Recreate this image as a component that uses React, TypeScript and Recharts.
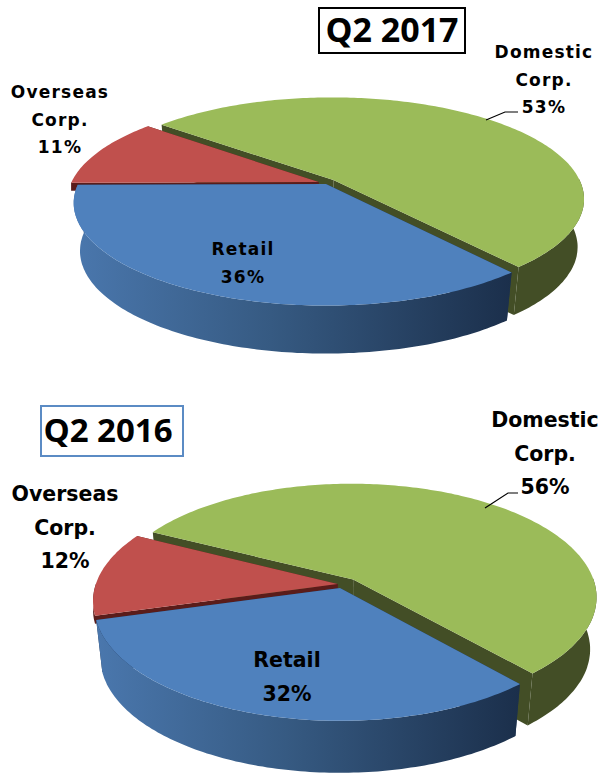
import { PieChart, Pie } from "recharts";

const sliceNames = ["Domestic Corp.", "Overseas Corp.", "Retail"];
const labelLines = [["Domestic", "Corp."], ["Overseas", "Corp."], ["Retail"]];
const values2017 = [53, 11, 36];
const values2016 = [56, 12, 32];

const topColors = ["#9BBB59", "#C0504D", "#4F81BD"];
const wallColors = ["#434E26", "#5A1C1A", "#1D3350"];

const LABEL_FONT = "'DejaVu Sans', sans-serif";
const TITLE_FONT = "'Open Sans', sans-serif";

interface View {
  id: string;
  cx: number;
  cy: number;
  r: number;
  squash: number;
  persp: number;
  depth: number;
  taper: number;
  start: number;
  explode: number[][];
  fontSize: number;
  spacing: number;
  lineHeight: number;
  labelPos: number[][];
  leader: number[][];
}

const view2017: View = {
  id: "w17",
  cx: 326,
  cy: 184,
  r: 248,
  squash: 0.4,
  persp: 0.184,
  depth: 48,
  taper: 0.975,
  start: -50,
  explode: [[0.03, 0.04], [-0.03, 0.02], [0, 0]],
  fontSize: 17,
  spacing: 1.2,
  lineHeight: 27.5,
  labelPos: [[544, 58], [60, 98], [243, 255]],
  leader: [[486, 120], [505, 112], [518, 112]],
};

const view2016: View = {
  id: "w16",
  cx: 340,
  cy: 203,
  r: 243,
  squash: 0.464,
  persp: 0.151,
  depth: 52,
  taper: 0.975,
  start: -49,
  explode: [[0.055, 0.075], [-0.01, 0.035], [0, 0]],
  fontSize: 20.5,
  spacing: 0,
  lineHeight: 33.5,
  labelPos: [[545, 42], [65, 116], [287, 282]],
  leader: [[485, 123], [508, 108], [518, 108]],
};

// overseas wall stays shallow, only its cut edge shows above retail
const SHALLOW_WALL = 8;

function project(v: View, deg: number, ex: number[], atCentre = false) {
  const a = (deg * Math.PI) / 180;
  const px = (atCentre ? 0 : Math.cos(a)) + ex[0];
  const py = (atCentre ? 0 : Math.sin(a)) + ex[1];
  const w = 1 + v.persp * py;
  return [v.cx + (v.r * px) / w, v.cy - (v.r * v.squash * py) / w];
}

function toPath(pts: number[][]) {
  return "M" + pts.map((p) => `${p[0].toFixed(1)},${p[1].toFixed(1)}`).join("L") + "Z";
}

function Slice3D({ view, props }: { view: View; props: any }) {
  const { startAngle, endAngle, index } = props;
  const ex = view.explode[index];
  const wallDepth = index === 1 ? SHALLOW_WALL : view.depth;
  const taper = index === 1 ? 1 : view.taper;
  const drop = (p: number[]) => [view.cx + (p[0] - view.cx) * taper, p[1] + wallDepth];

  const arc: number[][] = [];
  const frontArc: number[][] = [];
  for (let deg = startAngle; ; deg += 1) {
    const d = Math.min(deg, endAngle);
    const p = project(view, d, ex);
    arc.push(p);
    if (Math.sin((d * Math.PI) / 180) < 0.02) frontArc.push(p);
    if (deg >= endAngle) break;
  }
  const hub = project(view, 0, ex, true);
  const last = arc[arc.length - 1];
  const sideA = [hub, arc[0], drop(arc[0]), drop(hub)];
  const sideB = [hub, last, drop(last), drop(hub)];
  const frontFill = index === 2 ? `url(#${view.id})` : wallColors[index];
  return (
    <g>
      <path d={toPath(sideA)} fill={wallColors[index]} />
      <path d={toPath(sideB)} fill={wallColors[index]} />
      {frontArc.length > 1 && (
        <path d={toPath([...frontArc, ...frontArc.map(drop).reverse()])} fill={frontFill} />
      )}
      <path d={toPath([hub, ...arc])} fill={topColors[index]} />
    </g>
  );
}

function SliceLabel({ view, props }: { view: View; props: any }) {
  const { index, value } = props;
  const [x, y] = view.labelPos[index];
  const lines = [...labelLines[index], `${value}%`];
  return (
    <g>
      {index === 0 && (
        <polyline
          points={view.leader.map((p) => p.join(",")).join(" ")}
          fill="none"
          stroke="#000"
          strokeWidth={1.2}
        />
      )}
      <text
        x={x}
        y={y}
        textAnchor="middle"
        fontFamily={LABEL_FONT}
        fontWeight={700}
        fontSize={view.fontSize}
        letterSpacing={view.spacing}
        fill="#000"
      >
        {lines.map((line, i) => (
          <tspan key={i} x={x} y={y + i * view.lineHeight}>
            {line}
          </tspan>
        ))}
      </text>
    </g>
  );
}

function Pie3D({ view, values, height }: { view: View; values: number[]; height: number }) {
  const data = sliceNames.map((name, i) => ({ name, value: values[i] }));
  return (
    <PieChart width={604} height={height} margin={{ top: 0, right: 0, bottom: 0, left: 0 }}>
      <defs>
        <linearGradient id={view.id} x1="0" y1="0" x2="1" y2="0">
          <stop offset="0" stopColor="#4A77AD" />
          <stop offset="0.45" stopColor="#365A82" />
          <stop offset="1" stopColor="#1B2F4B" />
        </linearGradient>
      </defs>
      <Pie
        data={data}
        dataKey="value"
        nameKey="name"
        cx={view.cx}
        cy={view.cy}
        outerRadius={view.r}
        startAngle={view.start}
        endAngle={view.start + 360}
        stroke="none"
        isAnimationActive={false}
        labelLine={false}
        label={(props: any) => <SliceLabel view={view} props={props} />}
        shape={(props: any) => <Slice3D view={view} props={props} />}
      />
    </PieChart>
  );
}

function TitleBox({ text, left, top, width, height, color, fontSize, nudge }: any) {
  return (
    <div
      style={{
        position: "absolute",
        left,
        top,
        width,
        height,
        boxSizing: "border-box",
        border: `2px solid ${color}`,
        background: "#fff",
        fontFamily: TITLE_FONT,
        fontWeight: 700,
        fontSize,
        lineHeight: `${height - 6}px`,
        textAlign: "center",
        paddingRight: nudge,
        whiteSpace: "nowrap",
        color: "#000",
      }}
    >
      {text}
    </div>
  );
}

export default function App() {
  return (
    <div style={{ position: "absolute", left: 0, top: 0, width: 604, height: 775, background: "#fff", overflow: "hidden" }}>
      <div style={{ position: "absolute", left: 0, top: 0 }}>
        <Pie3D view={view2017} values={values2017} height={385} />
      </div>
      <div style={{ position: "absolute", left: 0, top: 385 }}>
        <Pie3D view={view2016} values={values2016} height={390} />
      </div>
      <TitleBox text="Q2 2017" left={318} top={7} width={148} height={47} color="#000" fontSize={34} nudge={0} />
      <TitleBox text="Q2 2016" left={40} top={405} width={144} height={52} color="#5B8BC4" fontSize={33} nudge={8} />
    </div>
  );
}
